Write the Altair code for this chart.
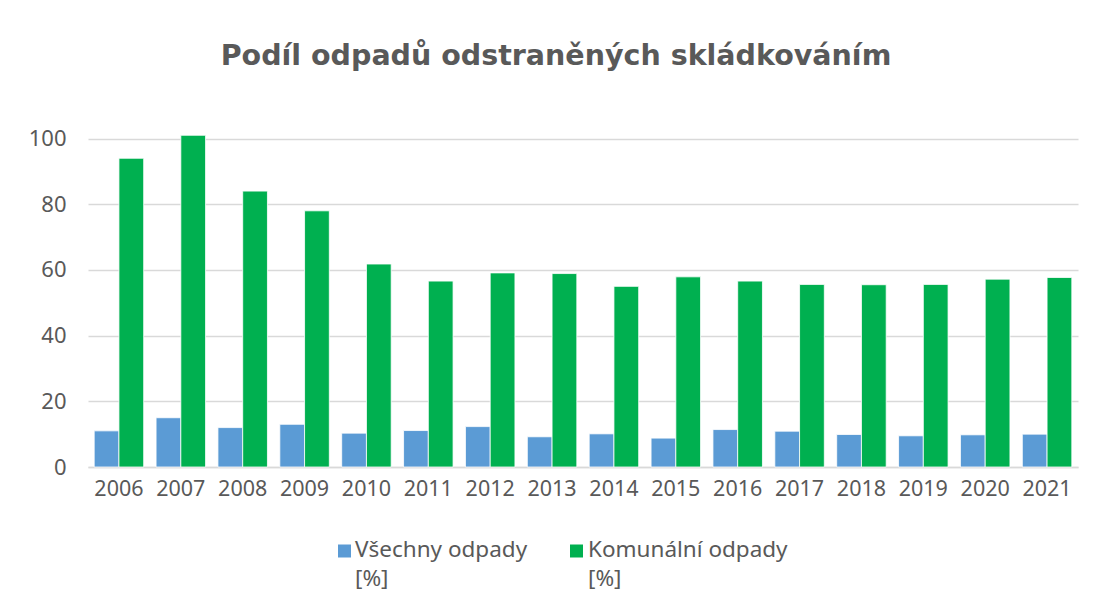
import altair as alt
import pandas as pd

years = [str(y) for y in range(2006, 2022)]
vsechny = [11.0, 15.0, 12.0, 13.0, 10.3, 11.1, 12.3, 9.2, 10.1, 8.8, 11.4, 10.9, 9.9, 9.5, 9.8, 10.0]
komunalni = [94.0, 101.0, 84.0, 78.0, 61.8, 56.6, 59.1, 58.9, 55.0, 57.9, 56.6, 55.6, 55.5, 55.6, 57.2, 57.7]
series = ["Všechny odpady [%]", "Komunální odpady [%]"]
colors = ["#5B9BD5", "#00B050"]

rows = []
for i, y in enumerate(years):
    rows.append({"rok": y, "serie": series[0], "hodnota": vsechny[i]})
    rows.append({"rok": y, "serie": series[1], "hodnota": komunalni[i]})
df = pd.DataFrame(rows)
legend_df = pd.DataFrame({"serie": series})

font = "Noto Sans"
grey = "#595959"
color_scale = alt.Scale(domain=series, range=colors)

bars = alt.Chart(df).mark_bar(stroke="white", strokeWidth=0.8).encode(
    x=alt.X("rok:N", title=None, sort=years,
            scale=alt.Scale(paddingInner=0.2, paddingOuter=0.1),
            axis=alt.Axis(labelAngle=0, labelFontSize=21.5, labelColor=grey, labelFont=font,
                          ticks=False, domainColor="#d9d9d9", domainWidth=1.5, labelPadding=11)),
    xOffset=alt.XOffset("serie:N", sort=series),
    y=alt.Y("hodnota:Q", title=None,
            scale=alt.Scale(domain=[0, 102], nice=False),
            axis=alt.Axis(values=[0, 20, 40, 60, 80, 100], labelFontSize=22, labelColor=grey,
                          labelFont=font, ticks=False, domain=False, gridColor="#d9d9d9",
                          gridWidth=1.3, labelPadding=22)),
    color=alt.Color("serie:N", sort=series, scale=color_scale, legend=None),
)

legend_layers = []
legend_pos = [(256.5, 267), (488.5, 500)]
for s, (sx, tx) in zip(series, legend_pos):
    base = alt.Chart(legend_df).transform_filter(alt.datum.serie == s)
    sq = base.mark_square(size=169, opacity=1).encode(
        x=alt.value(sx), y=alt.value(419),
        color=alt.Color("serie:N", scale=color_scale, legend=None),
    )
    tx_mark = base.transform_calculate(
        lab="replace(datum.serie, ' [%]', '\\n[%]')"
    ).mark_text(align="left", baseline="alphabetic", fontSize=22.5, font=font, color=grey,
                lineHeight=29, lineBreak="\n").encode(
        x=alt.value(tx), y=alt.value(425), text="lab:N",
    )
    legend_layers += [sq, tx_mark]

chart = alt.layer(bars, *legend_layers).properties(
    width=990,
    height=335,
    title=alt.TitleParams("Podíl odpadů odstraněných skládkováním", fontSize=28.5,
                          font="DejaVu Sans", fontWeight="bold", color=grey, anchor="middle",
                          offset=57, dx=-27),
    autosize=alt.AutoSizeParams(type="none"),
    padding={"left": 80, "top": 124, "right": 7, "bottom": 137},
).configure_view(stroke=None)

chart.save("out.html", embed_options={"renderer": "svg", "actions": False})
